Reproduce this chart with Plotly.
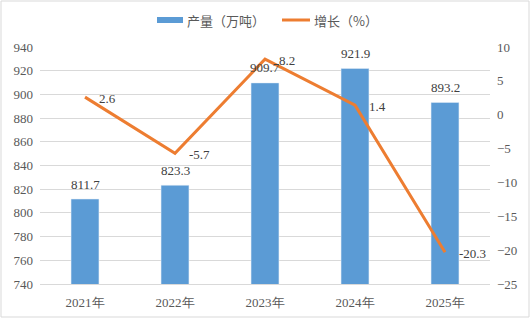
import plotly.graph_objects as go

years = ["2021年", "2022年", "2023年", "2024年", "2025年"]
output = [811.7, 823.3, 909.7, 921.9, 893.2]
growth = [2.6, -5.7, 8.2, 1.4, -20.3]
left_ticks = [740, 760, 780, 800, 820, 840, 860, 880, 900, 920, 940]
right_ticks = [-25, -20, -15, -10, -5, 0, 5, 10]
series_names = ["产量（万吨）", "增长（%）"]

BLUE = "#5B9BD5"
ORANGE = "#ED7D31"
GRAY = "#595959"
LABEL = "#404040"
FONT = "Liberation Serif"
CJK = "Noto Sans CJK SC"

L, R, T, B, W, H = 40, 41, 47, 35, 531, 319
PW, PH = W - L - R, H - T - B

def px(x):
    return (x - L) / PW

def py(y):
    return (H - B - y) / PH

fig = go.Figure()
fig.add_trace(go.Bar(
    x=years, y=output, name=series_names[0], marker_color=BLUE, width=0.31,
    showlegend=False,
))
fig.add_trace(go.Scatter(
    x=years, y=growth, name=series_names[1], mode="lines", yaxis="y2",
    line=dict(color=ORANGE, width=3), showlegend=False, cliponaxis=False,
))

annotations = []
for yr, v in zip(years, output):
    annotations.append(dict(x=yr, y=v, xref="x", yref="y", text=f"{v:.1f}",
                            showarrow=False, yshift=15, xanchor="center", yanchor="middle",
                            font=dict(family=FONT, size=13, color=LABEL)))
for yr, v in zip(years, growth):
    annotations.append(dict(x=yr, y=v, xref="x", yref="y2", text=f"{v:.1f}",
                            showarrow=False, xshift=12, yshift=-1, xanchor="left", yanchor="middle",
                            font=dict(family=FONT, size=13, color=LABEL)))
# manual legend
annotations.append(dict(x=px(185), y=py(20), xref="paper", yref="paper", text=series_names[0],
                        showarrow=False, xanchor="left", yanchor="middle",
                        font=dict(family=CJK, size=13, color=GRAY)))
annotations.append(dict(x=px(312), y=py(20), xref="paper", yref="paper", text=series_names[1],
                        showarrow=False, xanchor="left", yanchor="middle",
                        font=dict(family=CJK, size=13, color=GRAY)))

shapes = [
    dict(type="rect", xref="paper", yref="paper", x0=px(157), x1=px(183), y0=py(23), y1=py(17),
         fillcolor=BLUE, line=dict(width=0)),
    dict(type="line", xref="paper", yref="paper", x0=px(282), x1=px(310), y0=py(20), y1=py(20),
         line=dict(color=ORANGE, width=3)),
    dict(type="rect", xref="paper", yref="paper", x0=px(1), x1=px(529), y0=py(317), y1=py(1),
         line=dict(color="#D9D9D9", width=1)),
]

fig.update_layout(
    width=W, height=H,
    margin=dict(l=L, r=R, t=T, b=B, autoexpand=False),
    paper_bgcolor="white", plot_bgcolor="white",
    font=dict(family=FONT, color=GRAY, size=13),
    showlegend=False,
    xaxis=dict(showgrid=False, showline=True, linecolor="#D9D9D9", ticks="",
               ticklabelstandoff=6,
               tickfont=dict(size=13, color=GRAY, family=FONT)),
    yaxis=dict(range=[740, 940], tickvals=left_ticks, showgrid=True, gridcolor="#D9D9D9",
               zeroline=False, showline=False, ticks="", ticklabelstandoff=6,
               tickfont=dict(size=13, color=GRAY, family=FONT)),
    yaxis2=dict(range=[-25, 10], tickvals=right_ticks, overlaying="y", side="right",
                showgrid=False, zeroline=False, showline=False, ticks="", ticklabelstandoff=6,
                tickfont=dict(size=13, color=GRAY, family=FONT)),
    annotations=annotations,
    shapes=shapes,
)
fig.write_html("out.html")
